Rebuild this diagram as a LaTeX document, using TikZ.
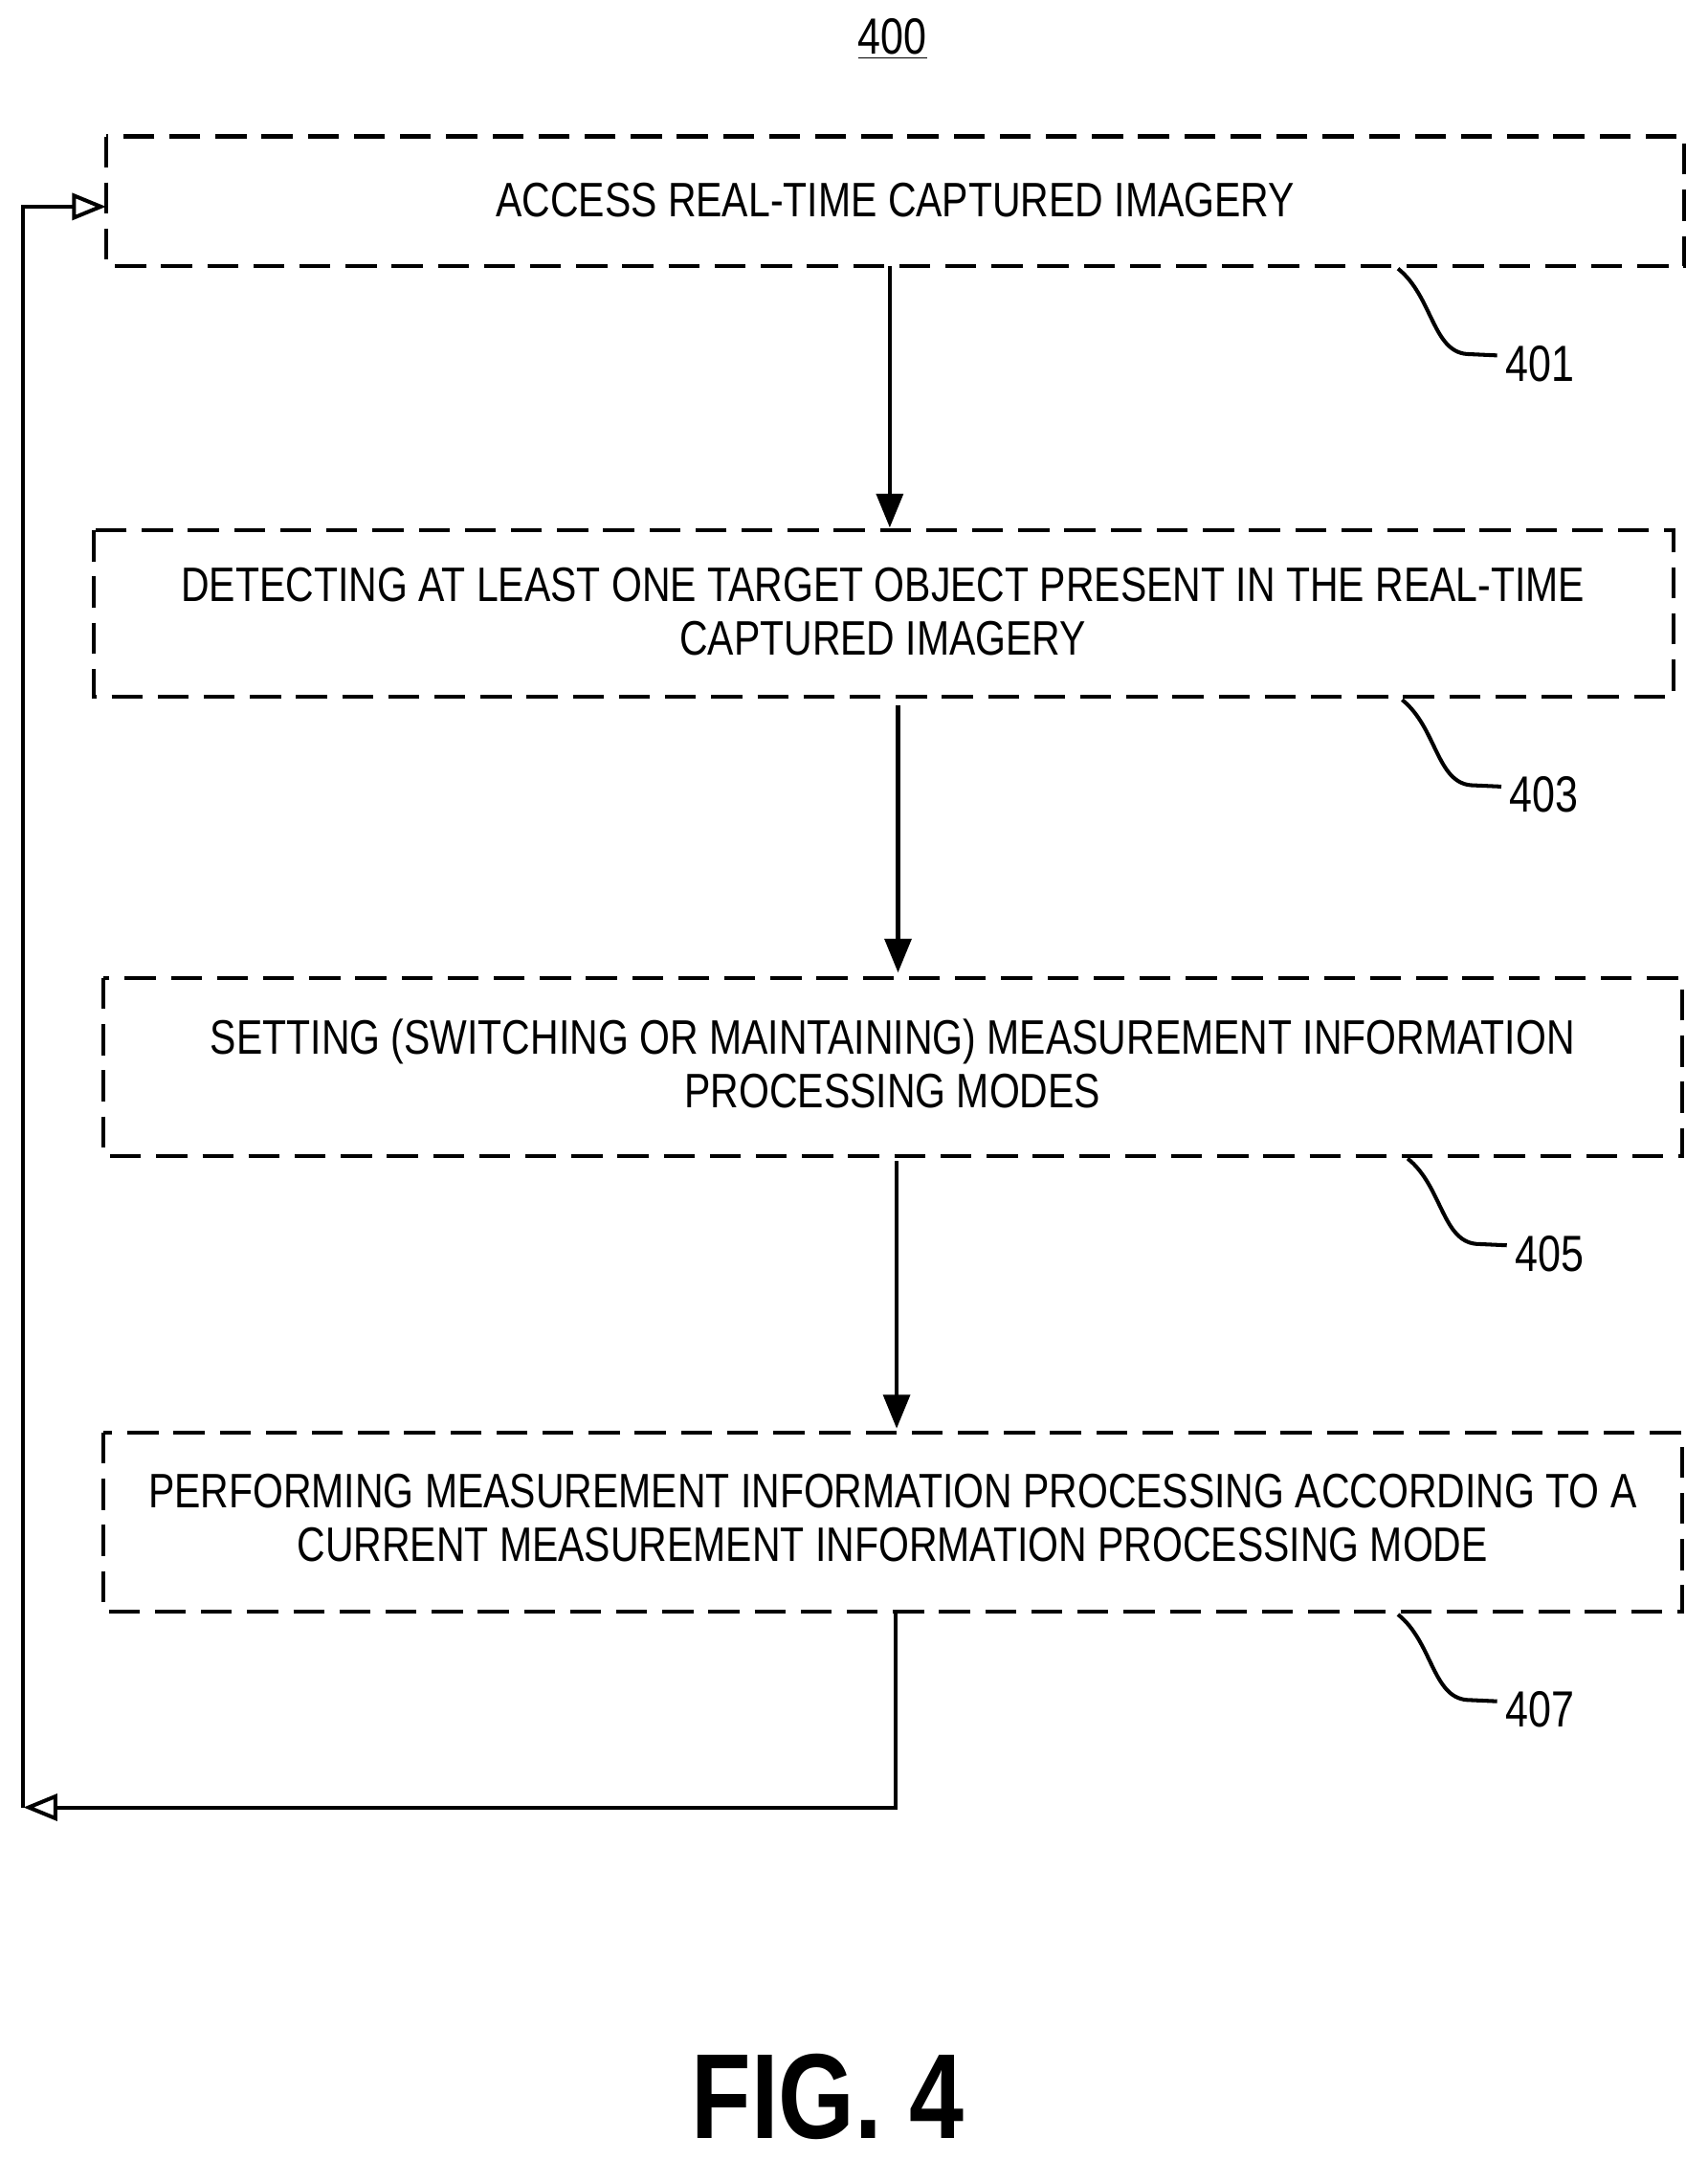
\documentclass[tikz,border=0pt]{standalone}
\usepackage{fontspec}
\setmainfont{Liberation Sans}[FakeStretch=0.81]
\usetikzlibrary{arrows.meta}
\begin{document}
\begin{tikzpicture}[x=0.02cm,y=-0.02cm,
 box/.style={draw,line width=1.6pt,dash pattern=on 0.45cm off 0.22cm},
 txt/.style={font=\fontsize{20}{22}\selectfont,align=center},
 arr/.style={line width=1.6pt,-{Triangle[length=14pt,width=11pt,open]}},
 arrf/.style={line width=1.6pt,-{Triangle[length=14pt,width=11pt]}},
 lead/.style={line width=1.6pt},
 lbl/.style={font=\fontsize{21}{24}\selectfont,anchor=west}]
\useasboundingbox (0,0) rectangle (1240,1568);
\node[font=\fontsize{21}{24}\selectfont] (t) at (648,28) {\underline{400}};
\draw[box] (77,99) rectangle (1223,193);
\draw[box] (68,385) rectangle (1215,506);
\draw[box] (75,710) rectangle (1221,839);
\draw[box] (75,1040) rectangle (1221,1170);
\node[txt] (b1) at (650,145) {ACCESS REAL-TIME CAPTURED IMAGERY};
\node[txt] (b2) at (641,444) {DETECTING AT LEAST ONE TARGET OBJECT PRESENT IN THE REAL-TIME\\CAPTURED IMAGERY};
\node[txt] (b3) at (648,772) {SETTING (SWITCHING OR MAINTAINING) MEASUREMENT INFORMATION\\PROCESSING MODES};
\node[txt] (b4) at (648,1102) {PERFORMING MEASUREMENT INFORMATION PROCESSING ACCORDING TO A\\CURRENT MEASUREMENT INFORMATION PROCESSING MODE};
\coordinate (a1) at (646,193); \coordinate (a1e) at (646,383);
\coordinate (a2) at (652,512); \coordinate (a2e) at (652,706);
\coordinate (a3) at (651,843); \coordinate (a3e) at (651,1037);
\draw[arrf] (a1) -- (a1e);
\draw[arrf] (a2) -- (a2e);
\draw[arrf] (a3) -- (a3e);
\coordinate (f0) at (650,1170); \coordinate (f1) at (650,1312); \coordinate (f2) at (17,1312);
\coordinate (g0) at (17,1312); \coordinate (g1) at (17,150); \coordinate (g2) at (77,150);
\draw[arr] (f0) -- (f1) -- (f2);
\draw[arr] (g0) -- (g1) -- (g2);
\foreach \y/\n/\x in {195/401/1015, 508/403/1018, 841/405/1022, 1172/407/1015}{
 \draw[lead] (\x,\y) .. controls (\x+25,\y+20) and (\x+25,\y+60) .. (\x+50,\y+62) -- (\x+72,\y+63);
 \node[lbl] at (\x+72,\y+69) {\n};
}
\node[font=\bfseries\fontsize{50}{56}\selectfont] (fig) at (601,1522) {FIG. 4};
\end{tikzpicture}
\end{document}
